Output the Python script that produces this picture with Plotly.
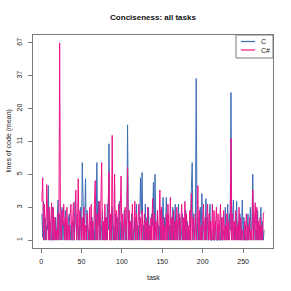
import plotly.graph_objects as go
import numpy as np

# ---- data ----
c_values = [
    2.2, 1.1, 3.0, 1.0, 2.0, 1.0, 1.6, 1.4, 4.3, 1.0,
    1.8, 1.0, 1.0, 2.6, 1.0, 1.4, 1.0, 2.0, 1.0, 1.6,
    3.1, 1.0, 2.2, 1.0, 1.4, 2.6, 1.0, 1.8, 1.0, 2.4,
    1.0, 1.4, 1.0, 2.0, 2.2, 1.0, 1.6, 1.0, 1.0, 1.8,
    1.0, 3.0, 1.4, 1.0, 2.2, 1.0, 1.6, 1.0, 2.6, 1.0,
    7.0, 1.4, 1.0, 2.0, 5.0, 1.0, 2.4, 1.0, 1.4, 1.0,
    1.8, 1.0, 2.0, 1.0, 1.4, 1.0, 2.6, 1.0, 7.0, 1.6,
    3.0, 1.0, 2.0, 1.0, 1.4, 2.4, 1.0, 1.6, 1.0, 2.0,
    1.0, 2.8, 1.4, 10.2, 1.0, 2.0, 1.0, 2.6, 1.0, 1.6,
    1.0, 2.2, 1.0, 1.4, 2.0, 1.0, 3.0, 1.0, 1.8, 1.0,
    1.6, 1.0, 2.4, 1.0, 1.4, 1.0, 14.7, 2.0, 1.0, 1.6,
    1.0, 2.2, 1.0, 1.4, 1.0, 2.0, 1.0, 2.8, 1.0, 1.6,
    1.0, 1.8, 5.1, 2.2, 5.7, 1.0, 1.6, 1.0, 2.8, 1.0,
    2.0, 1.0, 2.6, 1.0, 1.4, 1.0, 2.2, 1.6, 4.6, 1.0,
    5.5, 1.4, 1.0, 2.0, 1.0, 1.6, 1.0, 2.4, 1.0, 1.8,
    3.3, 1.0, 2.0, 1.4, 3.3, 1.0, 2.2, 1.0, 1.6, 1.0,
    2.0, 1.0, 2.6, 1.0, 1.4, 2.8, 1.0, 1.8, 1.0, 2.8,
    1.0, 2.0, 1.0, 1.4, 2.2, 1.0, 1.6, 1.0, 2.4, 1.0,
    1.8, 1.0, 1.4, 1.0, 2.0, 3.0, 7.0, 1.0, 2.2, 1.0,
    1.6, 35.0, 1.0, 2.0, 1.4, 1.0, 2.6, 1.0, 3.6, 1.0,
    1.8, 1.4, 1.0, 3.2, 1.0, 2.0, 1.0, 1.6, 2.8, 1.0,
    1.0, 1.0, 1.4, 1.0, 1.0, 1.8, 1.0, 1.0, 1.0, 1.6,
    1.0, 1.0, 2.0, 1.0, 1.0, 1.4, 1.0, 2.6, 1.0, 1.6,
    2.8, 1.0, 2.2, 1.4, 27.0, 1.0, 2.0, 3.1, 1.0, 1.6,
    1.0, 3.0, 1.0, 1.8, 1.0, 2.2, 1.0, 1.4, 3.1, 1.0,
    2.0, 1.0, 1.6, 1.0, 1.0, 2.2, 1.0, 1.4, 2.6, 1.0,
    1.8, 5.5, 1.0, 2.0, 1.0, 1.4, 1.0, 2.4, 1.0, 1.6,
    1.0, 2.6, 1.0, 1.8, 1.0, 1.4,
]

csharp_values = [
    3.0, 5.1, 1.0, 2.8, 1.6, 1.0, 4.4, 2.2, 1.0, 2.6,
    1.0, 1.8, 2.9, 1.0, 2.6, 1.0, 2.0, 1.0, 1.4, 1.0,
    2.2, 1.0, 67.0, 1.4, 1.0, 2.4, 1.6, 2.8, 1.0, 2.0,
    1.0, 2.6, 1.0, 1.6, 1.0, 2.2, 2.8, 1.0, 1.8, 2.9,
    1.0, 2.0, 3.9, 1.0, 1.6, 5.0, 1.0, 2.4, 1.4, 1.0,
    2.0, 1.0, 2.6, 1.0, 1.6, 1.0, 2.2, 1.4, 1.0, 2.6,
    1.0, 2.8, 1.0, 1.8, 1.0, 2.8, 4.8, 1.0, 2.2, 1.0,
    1.6, 3.0, 1.0, 2.4, 7.0, 1.0, 1.8, 1.0, 2.8, 1.0,
    2.0, 1.0, 2.6, 5.8, 1.0, 2.2, 1.0, 12.0, 1.6, 1.0,
    5.5, 1.0, 2.4, 1.0, 1.8, 2.8, 1.0, 2.0, 5.3, 1.0,
    2.2, 1.0, 1.6, 2.6, 1.0, 2.0, 6.3, 1.0, 2.4, 1.0,
    1.8, 1.0, 2.8, 1.0, 1.4, 3.0, 1.0, 2.2, 1.0, 1.6,
    2.8, 1.0, 2.0, 1.0, 2.4, 1.4, 1.0, 2.2, 1.0, 1.8,
    1.0, 2.6, 1.0, 1.6, 1.0, 2.0, 1.0, 3.2, 1.0, 2.2,
    1.0, 1.8, 1.0, 2.4, 1.0, 1.6, 3.9, 1.0, 2.6, 1.0,
    2.0, 1.0, 1.6, 1.0, 2.2, 1.0, 2.8, 1.4, 1.0, 3.3,
    1.0, 2.0, 1.0, 2.4, 1.0, 1.8, 1.0, 2.6, 1.0, 1.6,
    2.2, 1.0, 1.8, 2.8, 1.0, 2.0, 1.0, 3.0, 1.0, 2.2,
    1.0, 1.6, 1.0, 2.4, 1.0, 3.6, 1.0, 2.0, 1.4, 1.0,
    2.2, 1.0, 1.8, 4.3, 1.0, 2.4, 1.0, 1.6, 1.0, 2.6,
    2.8, 1.0, 2.0, 1.0, 1.6, 2.8, 1.0, 2.2, 1.0, 1.8,
    1.0, 2.8, 1.0, 2.4, 1.0, 2.0, 2.6, 1.0, 2.2, 1.0,
    1.8, 2.8, 1.0, 2.0, 1.0, 2.4, 1.0, 1.6, 1.0, 2.2,
    1.0, 1.8, 1.0, 1.4, 11.3, 1.0, 2.2, 1.0, 1.8, 1.0,
    2.4, 1.0, 1.6, 1.0, 2.6, 1.0, 2.0, 1.0, 1.4, 1.0,
    1.0, 1.8, 1.0, 2.2, 1.0, 1.6, 1.0, 2.0, 1.0, 1.4,
    1.0, 3.9, 1.0, 2.2, 2.9, 1.0, 2.6, 1.0, 1.8, 1.0,
    2.0, 1.0, 1.6, 1.0, 2.2, 2.3,
]

series_names = ["C", "C#"]
tasks = list(range(1, len(c_values) + 1))
x_tick_labels = [0, 50, 100, 150, 200, 250]
y_tick_labels = [1, 3, 5, 11, 20, 37, 67]

# axis scale: log of (lines + 1), ticks evenly spaced on that scale
c_plot = np.array(c_values) + 1
cs_plot = np.array(csharp_values) + 1
lo, hi = np.log10(y_tick_labels[0] + 1), np.log10(y_tick_labels[-1] + 1)
tick_pos = 10 ** np.linspace(lo, hi, len(y_tick_labels))
ext = 0.04 * (hi - lo)
n = len(tasks)
xext = 0.04 * (n - 1)

FONT = "Liberation Sans"
BLUE = "#3D6DB6"
PINK = "#EE1289"
COLORS = [BLUE, PINK]
AX = "#7a7a7a"

fig = go.Figure()
fig.add_trace(go.Scatter(x=tasks, y=c_plot, mode="lines", name=series_names[0],
                         line=dict(color=BLUE, width=1)))
fig.add_trace(go.Scatter(x=tasks, y=cs_plot, mode="lines", name=series_names[1],
                         line=dict(color=PINK, width=1)))

# plot area in pixels (for placing legend / titles)
L, R, T, B = 33, 18, 35, 43
W = H = 291
pw, ph = W - L - R, H - T - B


def px_x(p):
    return (p - L) / pw


def px_y(p):
    return (H - B - p) / ph


shapes = [
    dict(type="rect", xref="paper", yref="paper",
         x0=px_x(236), x1=1, y0=px_y(58), y1=1,
         line=dict(color=AX, width=1), fillcolor="white", layer="above"),
]
annotations = [
    dict(text="task", x=0.5, y=px_y(277), xref="paper", yref="paper",
         showarrow=False, font=dict(size=7, family=FONT, color="#222"),
         xanchor="center", yanchor="middle"),
    dict(text="lines of code (mean)", x=px_x(8), y=0.5,
         xref="paper", yref="paper", textangle=-90, showarrow=False,
         font=dict(size=7, family=FONT, color="#222"),
         xanchor="center", yanchor="middle"),
]
for i, (nm, col) in enumerate(zip(series_names, COLORS)):
    yy = 41.5 + i * 8.5
    shapes.append(dict(type="line", xref="paper", yref="paper",
                       x0=px_x(241), x1=px_x(255), y0=px_y(yy), y1=px_y(yy),
                       line=dict(color=col, width=1.2), layer="above"))
    annotations.append(dict(text=nm, x=px_x(258.5), y=px_y(yy), xref="paper",
                            yref="paper", showarrow=False, xanchor="left",
                            yanchor="middle",
                            font=dict(size=7, family=FONT, color="#222")))

fig.update_layout(
    width=W, height=H,
    margin=dict(l=L, r=R, t=T, b=B),
    paper_bgcolor="white", plot_bgcolor="white",
    font=dict(family=FONT, size=7, color="#222"),
    title=dict(text="<b>Conciseness: all tasks</b>", x=0.5, xref="paper",
               y=1 - 17 / 291, yref="container", xanchor="center", yanchor="middle",
               font=dict(size=8, family=FONT, color="#111"), automargin=False),
    showlegend=False,
    xaxis=dict(range=[1 - xext, n + xext], tickvals=x_tick_labels,
               ticktext=[str(v) for v in x_tick_labels], automargin=False,
               showgrid=False, zeroline=False, showline=True, mirror=True,
               linecolor=AX, linewidth=1, ticks="outside", ticklen=4,
               tickcolor=AX, ticklabelstandoff=3),
    yaxis=dict(type="log", range=[lo - ext, hi + ext], tickvals=tick_pos,
               ticktext=[str(v) for v in y_tick_labels], tickangle=-90,
               automargin=False,
               showgrid=False, zeroline=False, showline=True, mirror=True,
               linecolor=AX, linewidth=1, ticks="outside", ticklen=4,
               tickcolor=AX, ticklabelstandoff=3),
    shapes=shapes,
    annotations=annotations,
)

fig.write_html("out.html",
               config={"displayModeBar": False},
               post_script="document.body.style.margin='0';"
                           "document.body.style.padding='0';")
